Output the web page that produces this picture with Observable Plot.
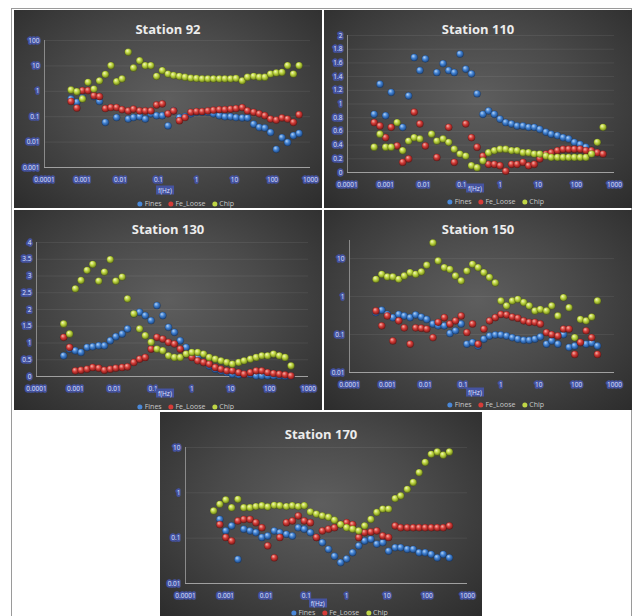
<!DOCTYPE html>
<html><head><meta charset="utf-8">
<script src="https://cdn.jsdelivr.net/npm/d3@7"></script>
<script src="https://cdn.jsdelivr.net/npm/@observablehq/plot@0.6"></script>
<style>
body{margin:0;background:#fff;width:640px;height:616px;overflow:hidden;position:relative;font-family:"Open Sans",sans-serif}
.frame{position:absolute;left:11px;top:8px;width:621px;height:620px;border:1px solid #9a9a9a;box-sizing:border-box}
.panel{position:absolute;background:radial-gradient(ellipse at 50% 45%,#5e5e5e 0%,#4a4a4a 45%,#2c2c2c 100%);overflow:hidden}
.panel svg{position:absolute;left:0;top:0}
.title{position:absolute;left:0;right:0;text-align:center;color:#ececec;font-weight:bold;font-size:13px;line-height:16px}
.xt{position:absolute;font-size:6.5px;color:#dfe2ff;background:#4553a0;padding:0 2px;line-height:9px;transform:translate(-50%,-50%)}
.legend{position:absolute;font-size:7px;color:#c9c9c9;white-space:nowrap;transform:translate(-50%,-50%);line-height:9px}
.legend i{display:inline-block;width:5px;height:5px;border-radius:50%;margin:0 2px 0 5px;vertical-align:-0.5px}
</style></head>
<body>
<svg width="0" height="0" style="position:absolute">
<defs>
<radialGradient id="gB" cx="0.45" cy="0.4" r="0.6" fx="0.35" fy="0.3"><stop offset="0" stop-color="#b5d5f8"/><stop offset="0.5" stop-color="#3f7fd0"/><stop offset="1" stop-color="#1d467f"/></radialGradient>
<radialGradient id="gR" cx="0.45" cy="0.4" r="0.6" fx="0.35" fy="0.3"><stop offset="0" stop-color="#f7b3aa"/><stop offset="0.5" stop-color="#d23a36"/><stop offset="1" stop-color="#7a1b19"/></radialGradient>
<radialGradient id="gG" cx="0.45" cy="0.4" r="0.6" fx="0.35" fy="0.3"><stop offset="0" stop-color="#f6f9c0"/><stop offset="0.5" stop-color="#bad33c"/><stop offset="1" stop-color="#687a1a"/></radialGradient>
</defs></svg>
<div class="frame"></div>
<div id="root"></div>
<script>
// frequency grid (Hz)
const freq = [0.0005,0.00071,0.001,0.0014,0.002,0.0028,0.004,0.0056,0.0079,0.011,0.016,0.022,0.032,0.045,0.063,0.089,0.126,0.178,0.25,0.355,0.5,0.71,1,1.41,2,2.8,4,5.6,7.9,11,16,22,32,45,63,89,126,178,250,355,500,710];
const seriesNames = ["Fines","Fe_Loose","Chip"];
const xTicks = [0.0001,0.001,0.01,0.1,1,10,100,1000];

// Station 92
const s92Fines = [0.50,0.37,0.55,null,0.62,0.40,0.06,null,0.093,null,0.081,0.093,0.10,0.081,0.13,0.11,0.11,0.044,0.17,0.093,0.10,0.13,0.15,0.15,0.15,0.13,0.11,0.10,0.10,0.093,0.09,0.09,0.051,0.038,0.036,0.024,0.0052,0.015,0.0097,0.018,0.022,null];
const s92Fe = [0.40,0.22,1.07,1.07,0.67,0.62,0.21,0.23,0.23,0.19,0.17,0.20,0.17,0.17,0.17,0.29,0.32,0.13,0.17,0.07,0.093,0.15,0.16,0.16,0.17,0.18,0.19,0.19,0.20,0.21,0.23,0.17,0.15,0.13,0.11,0.081,0.074,0.09,0.081,0.06,0.12,null];
const s92Chip = [1.13,0.97,0.5,2.26,1.23,2.6,4.6,10.3,2.4,3.1,35,8.3,16,10.3,10.3,3.9,6.6,4.8,4.2,3.9,3.6,3.3,3.2,3.1,3.1,3.1,3.1,3.1,3.1,3.2,2.6,3.6,3.9,3.6,3.6,4.8,5.3,5.6,10.3,4.8,10.3,null];
// Station 110
const s110Fines = [0.85,1.29,0.83,1.17,null,0.66,1.12,1.68,1.49,1.66,null,1.46,1.59,1.49,1.46,1.73,1.51,1.44,1.15,0.85,0.90,0.85,0.78,0.73,0.71,0.68,0.68,0.66,0.66,0.63,0.59,0.56,0.54,0.51,0.49,0.44,0.41,0.37,0.32,0.29,null,null];
const s110Fe = [0.73,0.68,0.51,0.66,0.39,0.15,0.20,0.88,0.71,0.39,null,0.22,null,0.66,0.15,null,0.71,0.51,0.37,0.24,0.12,0.12,0.10,0.02,0.12,0.12,0.15,0.10,0.12,0.20,0.27,0.29,0.32,0.34,0.34,0.34,0.34,0.32,0.32,0.29,0.27,null];
const s110Chip = [0.37,0.56,0.37,0.37,0.73,0.32,0.46,0.51,0.49,null,0.56,0.46,0.49,0.44,0.34,0.27,0.24,0.10,0.07,0.17,0.29,0.32,0.34,0.34,0.32,0.32,0.29,0.29,0.27,0.27,0.24,0.22,0.22,0.22,0.22,0.22,0.22,0.22,0.27,0.44,0.66,null];
// Station 130
const s130Fines = [0.62,0.82,0.77,0.72,0.87,0.89,0.92,0.92,1.07,1.19,1.27,1.42,1.87,1.92,1.82,1.67,2.12,1.82,1.47,1.32,1.07,0.87,0.72,0.57,0.42,0.32,0.22,0.17,0.12,0.07,0.05,0.07,0.07,0.02,0.02,0.02,0.02,0.02,0.01,0.01,null,null];
const s130Fe = [1.17,0.87,0.17,0.19,0.22,0.27,0.25,0.19,0.22,0.25,0.27,0.29,0.42,0.52,0.57,0.82,1.17,1.12,1.02,0.97,0.82,0.67,0.57,0.47,0.42,0.37,0.27,0.22,0.17,0.17,0.12,0.07,0.12,0.17,0.17,0.12,0.09,0.07,0.05,0.02,null,null];
const s130Chip = [1.57,1.27,2.62,2.87,3.17,3.35,2.85,3.12,3.49,2.85,2.97,2.32,1.87,1.42,1.22,1.02,0.82,0.77,0.62,0.57,0.57,0.67,0.72,0.72,0.67,0.57,0.52,0.47,0.42,0.37,0.42,0.47,0.52,0.57,0.62,0.62,0.67,0.62,0.57,0.32,null,null];
// Station 150
const s150Fines = [0.38,0.44,0.34,0.28,0.34,0.31,0.28,0.33,0.29,0.25,0.19,0.17,0.17,0.107,0.126,0.19,0.056,0.062,0.050,0.076,0.092,0.098,0.098,0.092,0.083,0.076,0.071,0.071,0.076,0.087,0.056,0.068,0.056,0.10,0.046,0.050,0.062,0.056,0.06,0.050,null,null];
const s150Fe = [0.42,0.17,0.31,0.068,0.23,0.15,0.056,0.15,0.147,0.14,0.083,0.21,0.28,0.19,0.23,0.31,0.113,0.19,0.056,0.14,0.23,0.28,0.34,0.33,0.29,0.27,0.23,0.21,0.21,0.19,0.113,0.10,0.092,0.14,0.14,0.030,0.062,0.126,0.083,0.030,null,null];
const s150Chip = [2.86,3.87,3.3,3.3,2.86,3.5,4.3,3.87,4.5,6.7,26,8.7,5.8,5.2,3.5,2.6,4.7,7.1,5.8,4.3,3.2,2.3,0.77,0.57,0.77,0.85,0.70,0.57,0.42,0.46,0.42,0.57,0.31,0.94,0.51,0.083,0.25,0.23,0.29,0.77,null,null];
// Station 170
const s170Fines = [null,0.26,0.145,0.187,0.034,0.158,0.145,0.133,0.104,0.112,0.145,0.133,0.122,0.112,0.17,0.158,0.133,0.104,0.080,0.057,0.04,0.029,0.035,0.048,0.068,0.087,0.095,0.074,0.080,0.052,0.062,0.062,0.057,0.057,0.048,0.048,0.044,0.037,0.044,0.037,null,null];
const s170Fe = [null,0.20,0.104,0.087,0.24,0.26,0.26,0.22,0.17,0.068,0.037,0.104,0.22,0.24,0.31,0.24,0.22,0.104,0.145,0.158,0.17,0.20,0.22,0.20,0.104,0.133,0.137,0.145,0.112,0.104,0.187,0.17,0.17,0.17,0.17,0.17,0.17,0.17,0.17,0.187,null,null];
const s170Chip = [0.40,0.56,0.70,0.47,0.72,0.47,0.47,0.50,0.52,0.49,0.53,0.52,0.50,0.52,0.50,0.52,0.38,0.34,0.31,0.29,0.25,0.20,0.17,0.158,0.145,0.187,0.26,0.37,0.44,0.44,0.75,0.86,1.2,1.7,2.8,4.7,7.1,8.0,6.8,8.0,null,null];

const panels = [
  {title:"Station 92", left:14, top:10, w:308, h:198, m:[30,12,41,30], ytype:"log", ydom:[0.001,100], yticks:[0.001,0.01,0.1,1,10,100], ydx:-5, xlabY:180, legY:193, data:[s92Fines,s92Fe,s92Chip]},
  {title:"Station 110", left:324, top:10, w:308, h:198, m:[25,18,36,23], ytype:"linear", ydom:[0,2], yticks:[0,0.2,0.4,0.6,0.8,1,1.2,1.4,1.6,1.8,2], ydx:-5, xlabY:178, legY:191, data:[s110Fines,s110Fe,s110Chip]},
  {title:"Station 130", left:14, top:210, w:308, h:200, m:[32,14,34,22], ytype:"linear", ydom:[0,4], yticks:[0,0.5,1,1.5,2,2.5,3,3.5,4], ydx:-5, xlabY:183, legY:196, data:[s130Fines,s130Fe,s130Chip]},
  {title:"Station 150", left:324, top:210, w:308, h:200, m:[30,18,38,25], ytype:"log", ydom:[0.01,30], yticks:[0.01,0.1,1,10], ydx:-5, xlabY:182, legY:194, data:[s150Fines,s150Fe,s150Chip]},
  {title:"Station 170", left:160, top:412, w:322, h:204, m:[35,15,33,25], ytype:"log", ydom:[0.01,10], yticks:[0.01,0.1,1,10], ydx:-5, xlabY:191, legY:200, data:[s170Fines,s170Fe,s170Chip]}
];
const fills = ["url(#gB)","url(#gR)","url(#gG)"];
const legendColors = ["#4a88d8","#d63c38","#bfd646"];

const root = document.getElementById("root");
for (const p of panels) {
  const div = document.createElement("div");
  div.className = "panel";
  Object.assign(div.style, {left:p.left+"px", top:p.top+"px", width:p.w+"px", height:p.h+"px"});
  const [mt, mr, mb, ml] = p.m;
  const ymin = p.ydom[0];
  const rows = s => freq.map((f, i) => ({f, v: s[i]})).filter(d => d.v != null);
  const tickStyle = {fill:"#dfe2ff", stroke:"#4553a0", strokeWidth:3.5, fontSize:6.5, fontFamily:"Open Sans"};
  const chart = Plot.plot({
    width: p.w, height: p.h,
    marginTop: mt, marginRight: mr, marginBottom: mb, marginLeft: ml,
    style: {background:"transparent", overflow:"visible"},
    x: {type:"log", domain:[0.0001,1000], axis:null},
    y: {type:p.ytype, domain:p.ydom, axis:null},
    marks: [
      Plot.ruleY(p.yticks.slice(1), {stroke:"#ffffff", strokeOpacity:0.07}),
      Plot.ruleY([ymin], {stroke:"#a0a0a0", strokeWidth:1}),
      Plot.ruleX([0.0001], {stroke:"#8a8a8a", strokeWidth:1}),
      Plot.text(xTicks, {x:d => d, y:() => ymin, dy:12, text:d => String(d), ...tickStyle}),
      Plot.text(p.yticks, {x:() => 0.0001, y:d => d, dx:p.ydx, textAnchor:"end", text:d => String(d), ...tickStyle}),
      ...p.data.map((s, k) => Plot.dot(rows(s), {x:"f", y:"v", r:3.6, fill:fills[k], stroke:"#000", strokeOpacity:0.25, strokeWidth:0.5}))
    ]
  });
  div.appendChild(chart);
  const t = document.createElement("div");
  t.className = "title"; t.style.top = (p.top === 412 ? 14 : 11) + "px"; t.textContent = p.title;
  div.appendChild(t);
  const xl = document.createElement("div");
  xl.className = "xt"; xl.textContent = "f(Hz)";
  xl.style.left = (p.w * 0.49) + "px"; xl.style.top = p.xlabY + "px";
  div.appendChild(xl);
  const lg = document.createElement("div");
  lg.className = "legend"; lg.style.left = (p.w * 0.55) + "px"; lg.style.top = p.legY + "px";
  lg.innerHTML = seriesNames.map((n, k) => `<i style="background:${legendColors[k]}"></i>${n}`).join(" ");
  div.appendChild(lg);
  root.appendChild(div);
}
</script>
</body></html>
